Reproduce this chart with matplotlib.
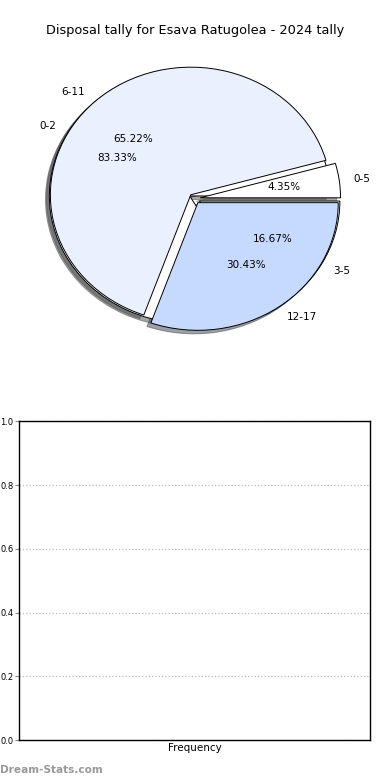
import matplotlib
matplotlib.use('Agg')
import matplotlib.pyplot as plt

plt.rcParams['font.family'] = 'DejaVu Sans'

# 데이터
title = 'Disposal tally for Esava Ratugolea - 2024 tally'
labels_a = ['0-5', '6-11', '12-17']
values_a = [4.35, 65.22, 30.43]
colors_a = ['#ffffff', '#eaf0fe', '#c6d9fe']

labels_b = ['0-2', '3-5']
values_b = [83.33, 16.67]
colors_b = ['#ffffff', '#ffffff']

y_ticks = [0.0, 0.2, 0.4, 0.6, 0.8, 1.0]

fig = plt.figure(figsize=(3.9, 7.8), dpi=100)

# 원형 차트 (두 개를 겹쳐서 그림)
ax1 = fig.add_axes([0.049, 0.541, 0.9, 0.409])
wedge_kw = dict(edgecolor='black', linewidth=0.7)
ax1.pie(values_b, labels=labels_b, colors=colors_b,
        explode=[0.04] * len(values_b),
        autopct='%.2f%%', shadow=True, wedgeprops=wedge_kw,
        textprops=dict(fontsize=7.5))
ax1.pie(values_a, labels=labels_a, colors=colors_a,
        explode=[0.04] * len(values_a),
        autopct='%.2f%%', shadow=True, wedgeprops=wedge_kw,
        textprops=dict(fontsize=7.5))
ax1.set_aspect('auto')
ax1.set_xlim(-1.25, 1.25)
ax1.set_ylim(-1.25, 1.25)
fig.text(0.5, 0.961, title, ha='center', va='center', fontsize=9.3)

# 빈 막대 차트
ax2 = fig.add_axes([0.049, 0.051, 0.9, 0.409])
ax2.set_ylim(0, 1)
ax2.set_xticks([])
ax2.set_yticks(y_ticks)
ax2.set_yticklabels([f'{t:.1f}' for t in y_ticks])
ax2.tick_params(axis='y', labelsize=6, length=3, color='#888888', pad=1)
ax2.yaxis.grid(True, linestyle=':', color='#bbbbbb', linewidth=0.9)
ax2.set_xlabel('Frequency', fontsize=7.5, labelpad=2)
for s in ax2.spines.values():
    s.set_linewidth(1.0)

fig.text(0.0, 0.0128, 'Dream-Stats.com', fontsize=7.6, color='#999999',
         fontweight='bold', ha='left', va='center')

plt.savefig('out.png', dpi=100)
